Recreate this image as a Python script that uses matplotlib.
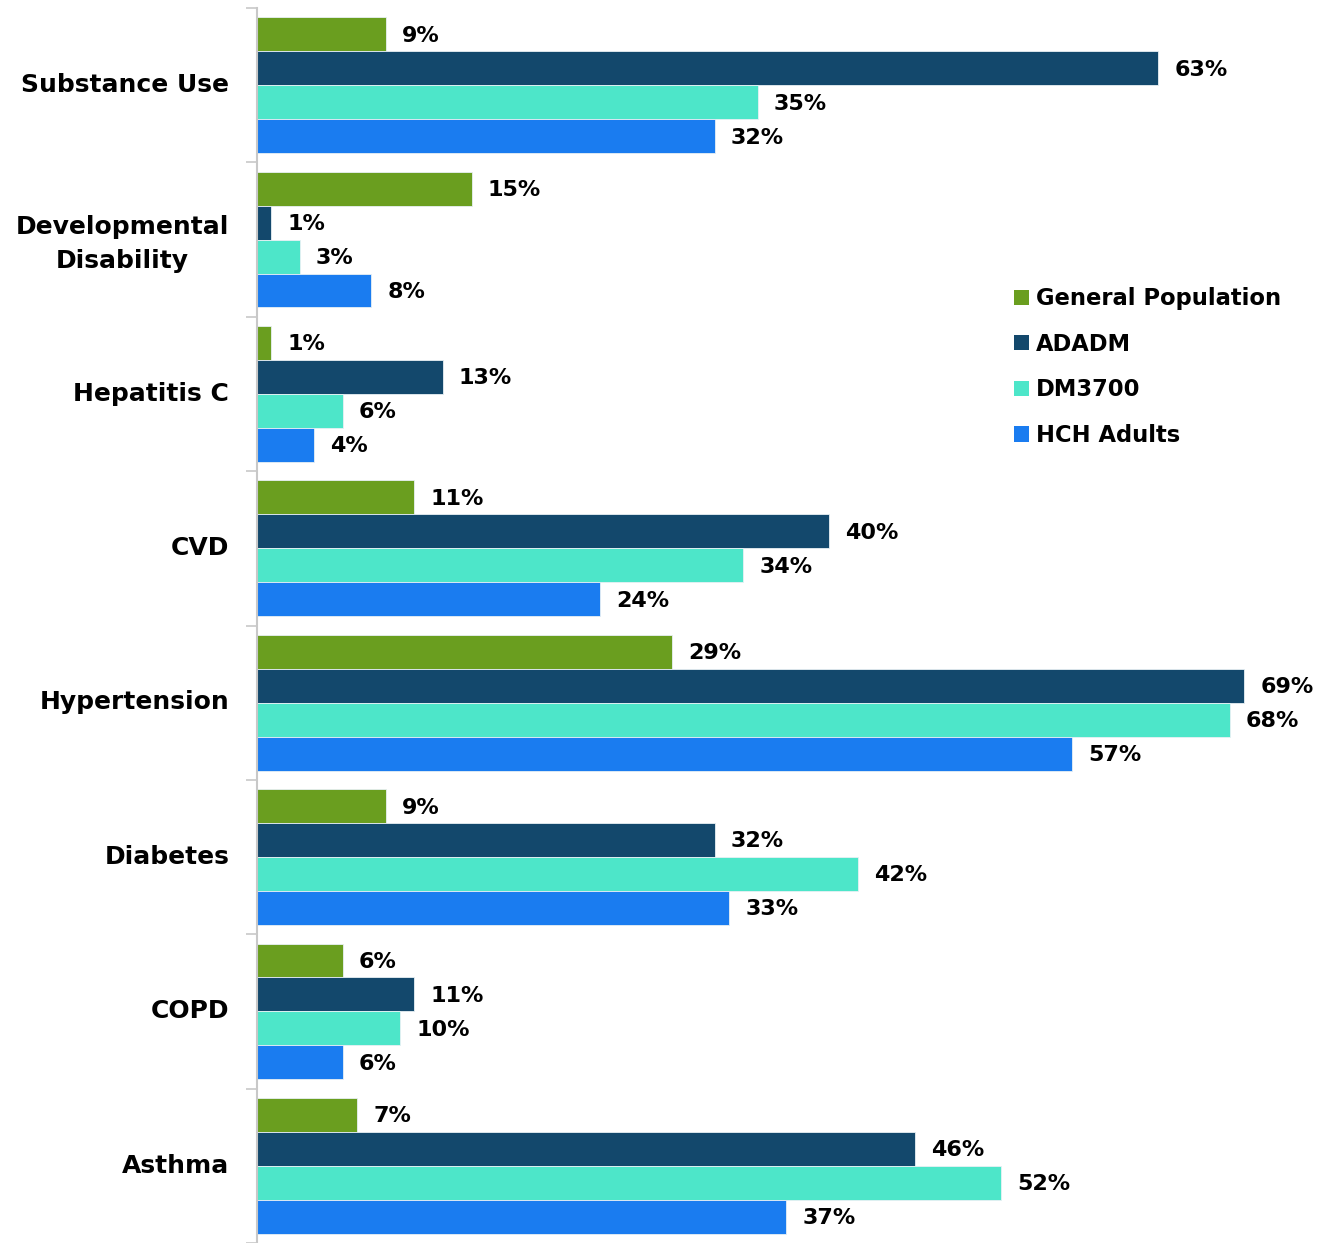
import matplotlib
matplotlib.use("Agg")
import matplotlib.pyplot as plt
from matplotlib.patches import Patch
from matplotlib.transforms import ScaledTranslation
import numpy as np

plt.rcParams['font.family'] = ['DejaVu Sans']

categories = ["Substance Use", "Developmental\nDisability", "Hepatitis C", "CVD",
              "Hypertension", "Diabetes", "COPD", "Asthma"]
series_names = ["General Population", "ADADM", "DM3700", "HCH Adults"]
general_population = [9, 15, 1, 11, 29, 9, 6, 7]
adadm = [63, 1, 13, 40, 69, 32, 11, 46]
dm3700 = [35, 3, 6, 34, 68, 42, 10, 52]
hch_adults = [32, 8, 4, 24, 57, 33, 6, 37]
colors = ["#6a9e1f", "#13486c", "#4de6c9", "#1a7cf0"]

series = [general_population, adadm, dm3700, hch_adults]

W, H = 1330, 1243
fig = plt.figure(figsize=(W / 100, H / 100), dpi=100)
ax = fig.add_axes([257 / W, 0, 1 - 257 / W, (H - 8) / H])

n = len(categories)
bar_h = 0.22
margin = (1 - 4 * bar_h) / 2
for k, (vals, col) in enumerate(zip(series, colors)):
    ys = np.arange(n) + margin + bar_h * (k + 0.5)
    ax.barh(ys, vals, height=bar_h, color=col, edgecolor="#e8f0f4", linewidth=0.6)
    for y, v in zip(ys, vals):
        ax.annotate(f"{v}%", (v, y), xytext=(11.5, -1), textcoords="offset points",
                    ha="left", va="center", fontsize=16, fontweight="bold", color="black")

ax.set_xlim(0, 75)
ax.set_ylim(n, 0)
ax.set_xticks([])
ax.set_yticks(np.arange(n + 1), minor=True)
ax.set_yticks(np.arange(n) + 0.5)
ax.set_yticklabels(categories, fontsize=18, fontweight="bold", ha="right",
                   multialignment="center", linespacing=1.5)
ax.tick_params(axis="y", which="major", length=0, pad=20)
ax.tick_params(axis="y", which="minor", length=8, width=1.2, color="#c8c8c8")
# nudge category labels up slightly
for lbl in ax.get_yticklabels():
    lbl.set_transform(lbl.get_transform() + ScaledTranslation(0, 2 / 72, fig.dpi_scale_trans))
for s in ["top", "right", "bottom"]:
    ax.spines[s].set_visible(False)
ax.spines["left"].set_color("#c8c8c8")
ax.spines["left"].set_linewidth(1.5)

handles = [Patch(facecolor=c, edgecolor="none") for c in colors]
fig.legend(handles, series_names, loc="upper left", bbox_to_anchor=(1005 / W, 1 - 278 / H),
           frameon=False, prop={"size": 16.3, "weight": "bold"}, handlelength=0.65,
           handleheight=0.65, handletextpad=0.3, labelspacing=1.0, borderaxespad=0)

fig.savefig("out.png", dpi=100)
